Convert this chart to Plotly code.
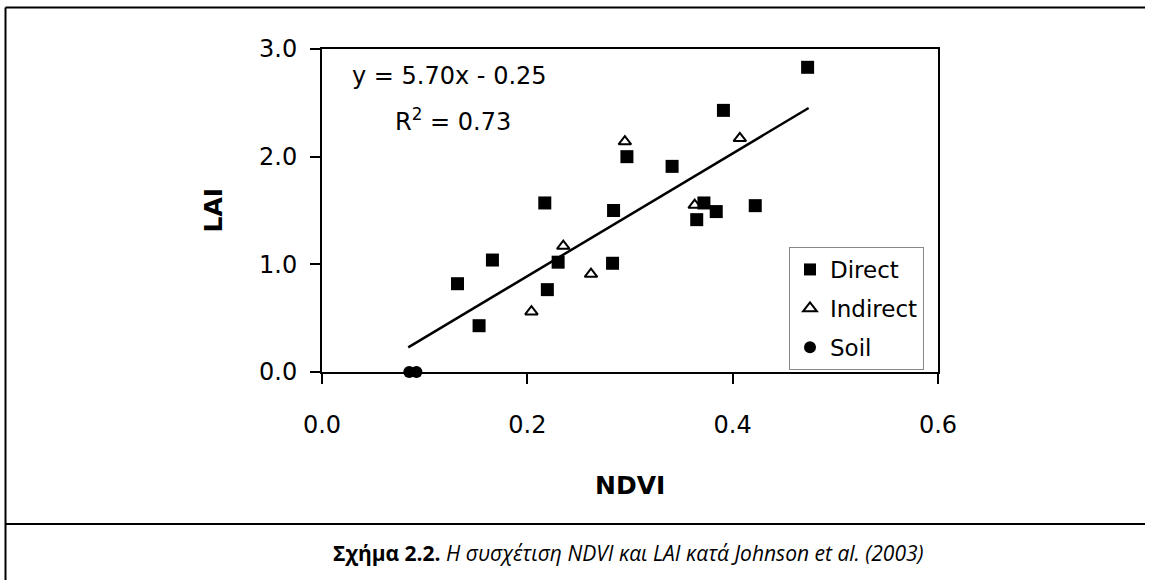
import plotly.graph_objects as go

# ---- data ----
direct_ndvi = [0.132, 0.153, 0.166, 0.217, 0.2195, 0.230, 0.283, 0.284, 0.297,
               0.341, 0.365, 0.372, 0.384, 0.391, 0.422, 0.473]
direct_lai = [0.82, 0.43, 1.04, 1.57, 0.765, 1.02, 1.01, 1.50, 2.00,
              1.91, 1.415, 1.57, 1.49, 2.43, 1.545, 2.83]
indirect_ndvi = [0.204, 0.235, 0.262, 0.295, 0.363, 0.407]
indirect_lai = [0.56, 1.17, 0.91, 2.14, 1.55, 2.17]
soil_ndvi = [0.085, 0.092]
soil_lai = [0.0, 0.0]
slope = 5.70
intercept = -0.25
fit_ndvi = [0.084, 0.474]
fit_lai = [slope * v + intercept for v in fit_ndvi]
x_ticks = [0.0, 0.2, 0.4, 0.6]
y_ticks = [0.0, 1.0, 2.0, 3.0]

W, H = 1151, 580
L, R, T, B = 322, 213, 49, 208
PW, PH = W - L - R, H - T - B


def px(x):
    return (x - L) / PW


def py(y):
    return (H - B - y) / PH


FONT = "DejaVu Sans"

fig = go.Figure()
fig.add_trace(go.Scatter(x=fit_ndvi, y=fit_lai, mode="lines",
                         line=dict(color="black", width=2.5),
                         showlegend=False, hoverinfo="skip"))
fig.add_trace(go.Scatter(x=direct_ndvi, y=direct_lai, mode="markers", name="Direct",
                         legendgroup="a",
                         marker=dict(symbol="square", size=13, color="black")))
fig.add_trace(go.Scatter(x=indirect_ndvi, y=indirect_lai, mode="markers", name="Indirect",
                         legendgroup="b",
                         marker=dict(symbol="triangle-up-open", size=11, color="black",
                                     line=dict(width=2, color="black"))))
fig.add_trace(go.Scatter(x=soil_ndvi, y=soil_lai, mode="markers", name="Soil",
                         legendgroup="c", cliponaxis=False,
                         marker=dict(symbol="circle", size=12, color="black")))

axis_common = dict(showline=True, linecolor="black", linewidth=2, mirror=True,
                   ticks="outside", ticklen=10, tickwidth=2, tickcolor="black",
                   showgrid=False, zeroline=False, tickformat=".1f",
                   tickfont=dict(family=FONT, size=24, color="black"))
fig.update_xaxes(range=[0, 0.6], tickvals=x_ticks, ticklabelstandoff=20, **axis_common)
fig.update_yaxes(range=[0, 3], tickvals=y_ticks, ticklabelstandoff=8, **axis_common)

ann = [
    dict(x=px(350), y=py(76), text="y = 5.70x - 0.25", xanchor="left", yanchor="middle",
         font=dict(family=FONT, size=24)),
    dict(x=px(393), y=py(120), text="R<sup>2</sup> = 0.73", xanchor="left", yanchor="middle",
         font=dict(family=FONT, size=24)),
    dict(x=px(213), y=0.5, text="<b>LAI</b>", textangle=-90, xanchor="center", yanchor="middle",
         font=dict(family=FONT, size=25)),
    dict(x=0.5, y=py(485), text="<b>NDVI</b>", xanchor="center", yanchor="middle",
         font=dict(family=FONT, size=25)),
    dict(x=px(628), y=py(553),
         text="<b>Σχήμα 2.2.</b> <i>Η συσχέτιση NDVI και LAI κατά Johnson et al. (2003)</i>",
         xanchor="center", yanchor="middle",
         font=dict(family="Open Sans", size=21)),
]
for a in ann:
    a.update(xref="paper", yref="paper", showarrow=False)
    a["font"]["color"] = "black"

shapes = [
    dict(type="line", x0=px(5.5), x1=px(5.5), y0=py(7.5), y1=py(H + 5)),
    dict(type="line", x0=px(5.5), x1=px(W - 6), y0=py(7.5), y1=py(7.5)),
    dict(type="line", x0=px(5.5), x1=px(W - 6), y0=py(524), y1=py(524)),
]
for s in shapes:
    s.update(xref="paper", yref="paper", line=dict(color="black", width=2))

fig.update_layout(
    width=W, height=H, margin=dict(l=L, r=R, t=T, b=B, autoexpand=False),
    paper_bgcolor="white", plot_bgcolor="white",
    annotations=ann, shapes=shapes,
    legend=dict(x=px(789), y=py(247), xanchor="left", yanchor="top",
                bordercolor="#888888", borderwidth=1, bgcolor="white",
                font=dict(family=FONT, size=23, color="black"),
                tracegroupgap=6, itemsizing="constant"),
)

fig.write_html("out.html", config={"displayModeBar": False},
               default_width=f"{W}px", default_height=f"{H}px")
